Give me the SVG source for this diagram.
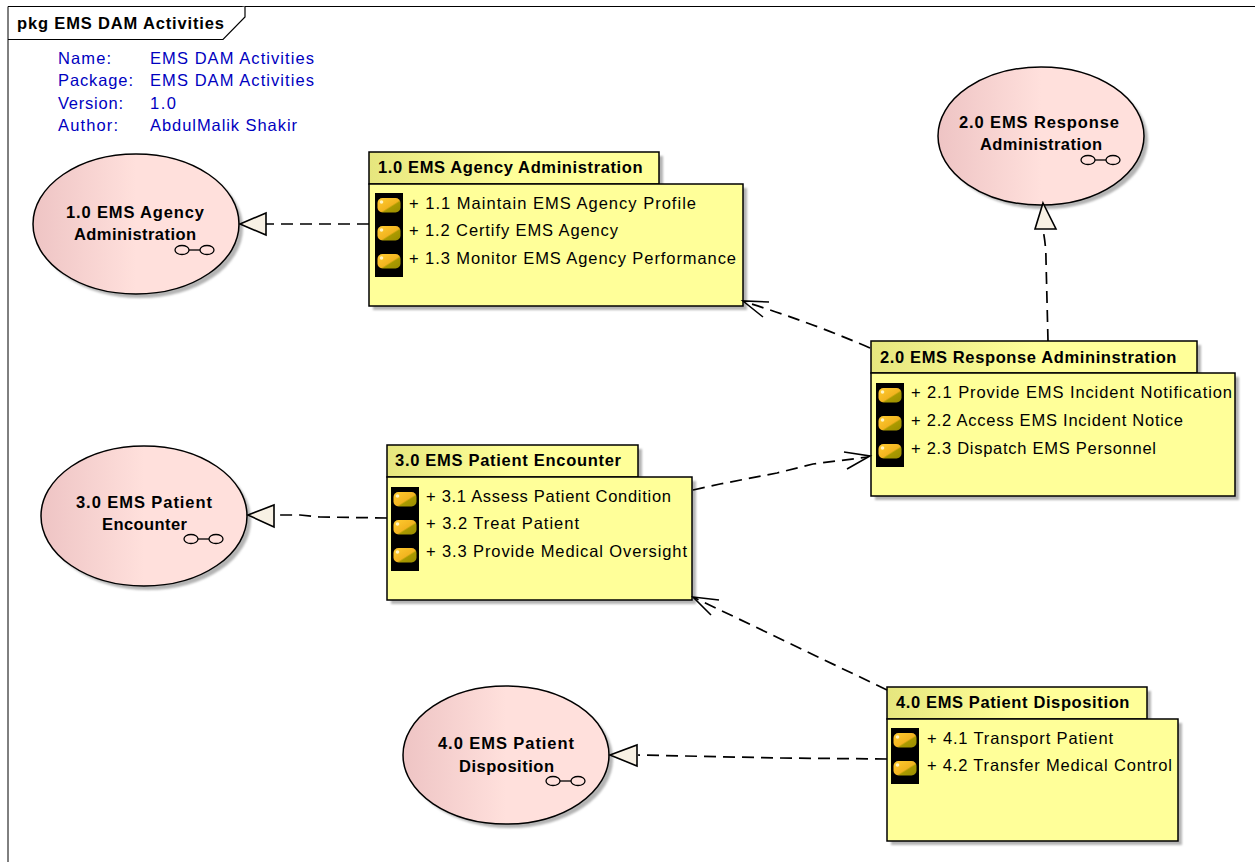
<svg xmlns="http://www.w3.org/2000/svg" width="1255" height="862" viewBox="0 0 1255 862">
<style>
text{font-family:"Liberation Sans",Arial,sans-serif;fill:#000;font-size:16.500px}
.t{font-weight:bold;letter-spacing:.62px}
.m{fill:#0000c0}
.u{font-weight:bold}
.b{fill:#ffff99;stroke:#000;stroke-width:1.5}
.h{fill:url(#tab);stroke:#000;stroke-width:1.5}
.s{fill:#b4b4b4;filter:url(#blur)}
.e{fill:url(#uc);stroke:#000;stroke-width:1.500}
.c{fill:none;stroke:#000;stroke-width:1.700;stroke-dasharray:12 7}
.o{fill:none;stroke:#000;stroke-width:1.600}
.a{fill:#f8f1e4;stroke:#000;stroke-width:1.600}
.g{fill:none;stroke:#000;stroke-width:1.300}
</style>
<defs>
<filter id="blur" x="-5%" y="-5%" width="110%" height="110%"><feGaussianBlur stdDeviation="0.8"/></filter>
<linearGradient id="tab" x1="0" x2="1" y1="0" y2="0"><stop offset="0" stop-color="#e6e67e"/><stop offset=".5" stop-color="#ffff99"/><stop offset="1" stop-color="#ffff99"/></linearGradient>
<linearGradient id="uc" x1="0" x2="1" y1="0" y2="0"><stop offset="0" stop-color="#eec4c4"/><stop offset=".5" stop-color="#ffe0dc"/><stop offset="1" stop-color="#ffe0dc"/></linearGradient>
<linearGradient id="gold" x1="0" x2="1" y1="0" y2="1"><stop offset="0" stop-color="#ffcc30"/><stop offset=".55" stop-color="#f2b420"/><stop offset=".62" stop-color="#aa9a00"/><stop offset="1" stop-color="#9a8c00"/></linearGradient>
<g id="ic"><rect x="0" y="0" width="28" height="28" fill="#000"/><rect x="2.500" y="5" width="23" height="14.500" rx="5" fill="url(#gold)"/><circle cx="6.500" cy="9" r="1.800" fill="#fff4c0"/></g>
<g id="gl"><ellipse cx="8" cy="5" rx="7" ry="4.500" class="g"/><ellipse cx="33" cy="5" rx="7" ry="4.500" class="g"/><path d="M15 5h11" class="g"/></g>
</defs>
<g id="frame">
<path d="M8 862V6.500H1255" fill="none" stroke="#000" stroke-width="1"/>
<path d="M8 39.500H223L245 17V6.500" fill="#fff" stroke="#000" stroke-width="1.200"/>
<text x="17" y="29" class="t" textLength="207" style="letter-spacing:0">pkg EMS DAM Activities</text>
<text x="58" y="64" class="m" textLength="53">Name:</text><text x="150" y="64" class="m" textLength="164">EMS DAM Activities</text>
<text x="58" y="86" class="m" textLength="75">Package:</text><text x="150" y="86" class="m" textLength="164">EMS DAM Activities</text>
<text x="58" y="109" class="m" textLength="65">Version:</text><text x="150" y="109" class="m" textLength="26">1.0</text>
<text x="58" y="131" class="m" textLength="60">Author:</text><text x="150" y="131" class="m" textLength="147">AbdulMalik Shakir</text>
</g>
<g id="uc1"><ellipse cx="140" cy="228" rx="103" ry="70" class="s"/><ellipse cx="136" cy="224" rx="103" ry="70" class="e"/><text x="66" y="218" class="u" textLength="138">1.0 EMS Agency</text><text x="74" y="240" class="u" textLength="122">Administration</text><use href="#gl" x="174" y="245"/></g>
<g id="uc2"><ellipse cx="1045" cy="140" rx="103" ry="69" class="s"/><ellipse cx="1041" cy="136" rx="103" ry="69" class="e"/><text x="959" y="128" class="u" textLength="160">2.0 EMS Response</text><text x="980" y="150" class="u" textLength="122">Administration</text><use href="#gl" x="1080" y="155"/></g>
<g id="uc3"><ellipse cx="148" cy="520" rx="103" ry="70" class="s"/><ellipse cx="144" cy="516" rx="103" ry="70" class="e"/><text x="76" y="508" class="u" textLength="136">3.0 EMS Patient</text><text x="102" y="530" class="u" textLength="85">Encounter</text><use href="#gl" x="183" y="534"/></g>
<g id="uc4"><ellipse cx="510" cy="759" rx="103" ry="69" class="s"/><ellipse cx="506" cy="755" rx="103" ry="69" class="e"/><text x="438" y="749" class="u" textLength="136">4.0 EMS Patient</text><text x="459" y="772" class="u" textLength="95">Disposition</text><use href="#gl" x="545" y="776"/></g>
<g id="p1"><rect x="373" y="156" width="290" height="32" class="s"/><rect x="373" y="188" width="374" height="122" class="s"/><rect x="369" y="152" width="290" height="32" class="h"/><rect x="369" y="184" width="374" height="122" class="b"/>
<text x="378" y="173" class="t">1.0 EMS Agency Administration</text>
<use href="#ic" x="375" y="193"/><use href="#ic" x="375" y="221"/><use href="#ic" x="375" y="249"/>
<text x="409" y="209" textLength="287">+ 1.1 Maintain EMS Agency Profile</text><text x="409" y="236" textLength="209">+ 1.2 Certify EMS Agency</text><text x="409" y="264" textLength="327">+ 1.3 Monitor EMS Agency Performance</text></g>
<g id="p2"><rect x="875" y="345" width="326" height="32" class="s"/><rect x="875" y="377" width="364" height="123" class="s"/><rect x="871" y="341" width="326" height="32" class="h"/><rect x="871" y="373" width="364" height="123" class="b"/>
<text x="880" y="363" class="t">2.0 EMS Response Admininstration</text>
<use href="#ic" x="876" y="383"/><use href="#ic" x="876" y="411"/><use href="#ic" x="876" y="439"/>
<text x="911" y="398" textLength="321">+ 2.1 Provide EMS Incident Notification</text><text x="911" y="426" textLength="272">+ 2.2 Access EMS Incident Notice</text><text x="911" y="454" textLength="245">+ 2.3 Dispatch EMS Personnel</text></g>
<g id="p3"><rect x="391" y="449" width="251" height="32" class="s"/><rect x="391" y="481" width="305" height="123" class="s"/><rect x="387" y="445" width="251" height="32" class="h"/><rect x="387" y="477" width="305" height="123" class="b"/>
<text x="395" y="466" class="t" textLength="226" style="letter-spacing:0">3.0 EMS Patient Encounter</text>
<use href="#ic" x="391" y="487"/><use href="#ic" x="391" y="515"/><use href="#ic" x="391" y="543"/>
<text x="426" y="502" textLength="245">+ 3.1 Assess Patient Condition</text><text x="426" y="529" textLength="153">+ 3.2 Treat Patient</text><text x="426" y="557" textLength="261">+ 3.3 Provide Medical Oversight</text></g>
<g id="p4"><rect x="891" y="691" width="260" height="32" class="s"/><rect x="891" y="723" width="291" height="122" class="s"/><rect x="887" y="687" width="260" height="32" class="h"/><rect x="887" y="719" width="291" height="122" class="b"/>
<text x="896" y="708" class="t">4.0 EMS Patient Disposition</text>
<use href="#ic" x="891" y="728"/><use href="#ic" x="891" y="756"/>
<text x="927" y="744" textLength="186">+ 4.1 Transport Patient</text><text x="927" y="771" textLength="245">+ 4.2 Transfer Medical Control</text></g>
<g id="connectors">
<path d="M369 224H266" class="c"/>
<path d="M870 348Q810 322 745 302" class="c"/>
<path d="M1048 341L1046 260Q1046 245 1043 230" class="c"/>
<path d="M693 490L720 484L777 473L813 464L868 457" class="c"/>
<path d="M387 518L320 517L300 515H275" class="c"/>
<path d="M887 690L695 598" class="c"/>
<path d="M887 759L780 758L638 755" class="c"/>
<path d="M240 224L266 213V235Z" class="a"/>
<path d="M1043 203L1056 229H1035Z" class="a"/>
<path d="M248 515L274 505V527Z" class="a"/>
<path d="M610 755L637 745V766Z" class="a"/>
<path d="M769 302L743 301L763 317" class="o"/>
<path d="M844 452L870 456L847 469" class="o"/>
<path d="M719 600L693 597L711 615" class="o"/>
</g>
</svg>
